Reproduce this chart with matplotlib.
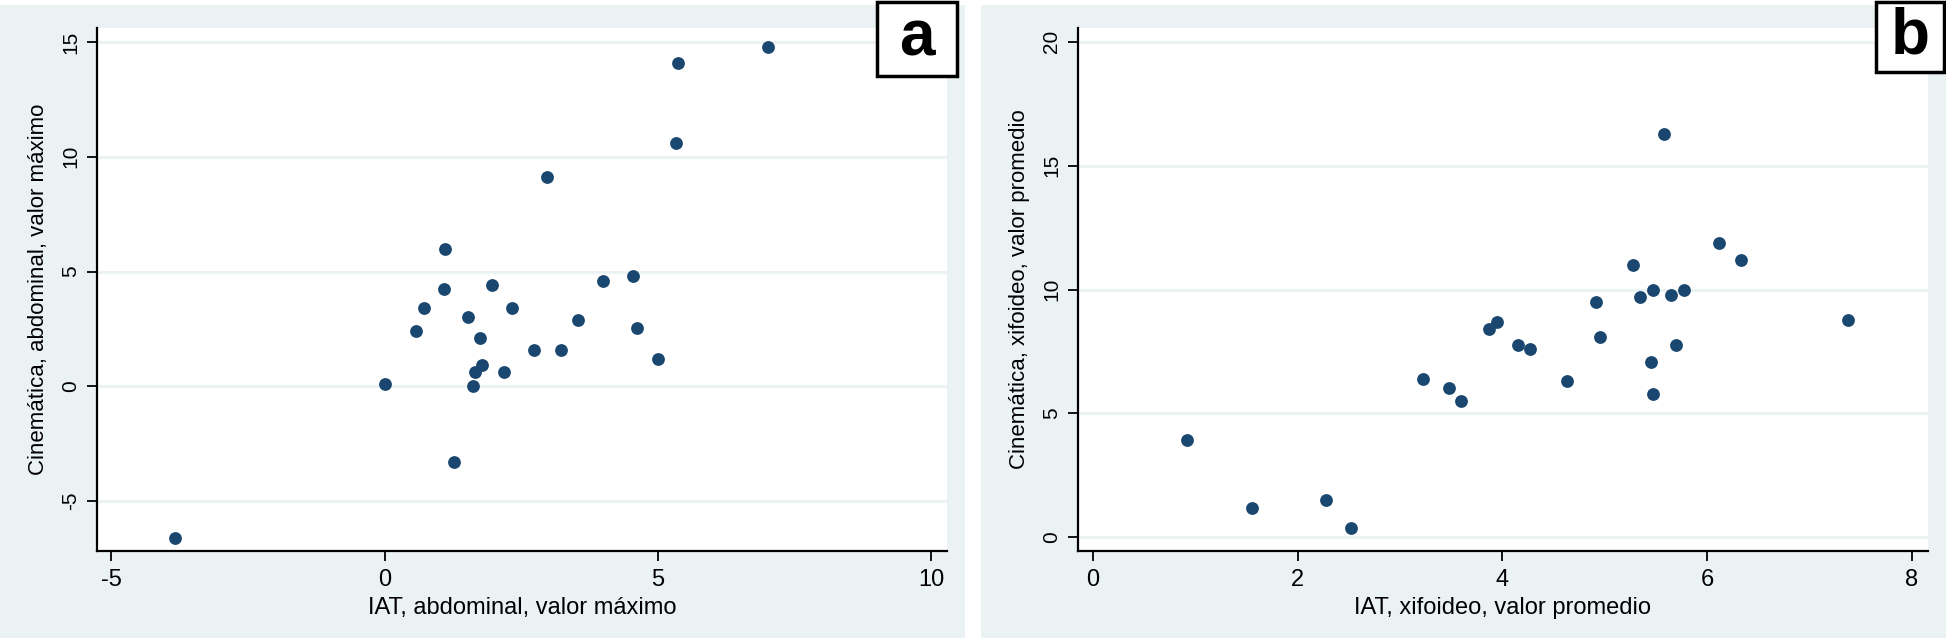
import matplotlib.pyplot as plt
from matplotlib.patches import Rectangle

# panel a: abdominal, valor maximo
iat_abd = [-3.84, 0.00, 0.58, 0.72, 1.10, 1.08, 1.28, 1.53, 1.75, 1.78, 1.66, 1.62, 1.96,
           2.18, 2.34, 2.74, 2.98, 3.23, 3.54, 4.00, 4.54, 4.62, 5.01, 5.33, 5.36, 7.02]
cin_abd = [-6.60, 0.12, 2.39, 3.40, 5.99, 4.22, -3.28, 3.01, 2.09, 0.92, 0.62, 0.02, 4.43,
           0.62, 3.40, 1.60, 9.10, 1.60, 2.89, 4.61, 4.80, 2.52, 1.21, 10.60, 14.08, 14.80]

# panel b: xifoideo, valor promedio
iat_xif = [0.92, 1.55, 2.28, 2.52, 3.22, 3.48, 3.60, 3.87, 3.95, 4.15, 4.27, 4.63, 4.92,
           4.95, 5.28, 5.35, 5.47, 5.45, 5.47, 5.58, 5.65, 5.70, 5.78, 6.12, 6.33, 7.38]
cin_xif = [3.91, 1.20, 1.51, 0.38, 6.39, 6.01, 5.50, 8.41, 8.70, 7.78, 7.60, 6.31, 9.51,
           8.08, 11.00, 9.69, 10.00, 7.09, 5.80, 16.27, 9.79, 7.78, 10.00, 11.90, 11.18, 8.78]

xticks_a = [-5, 0, 5, 10]
yticks_a = [-5, 0, 5, 10, 15]
xticks_b = [0, 2, 4, 6, 8]
yticks_b = [0, 5, 10, 15, 20]

W, H = 1946, 638
bg = '#eaf2f3'
navy = '#1a476f'

plt.rcParams['font.family'] = ['Liberation Sans', 'DejaVu Sans']

fig = plt.figure(figsize=(W / 100, H / 100), dpi=100, facecolor='white')


def fx(px):
    return px / W


def fy(py):
    return 1 - py / H


# panel backgrounds (light Stata-like graph region)
for x0 in (0, 981):
    fig.patches.append(Rectangle((fx(x0), 0), fx(965), 1 - 5 / H, transform=fig.transFigure,
                                 facecolor=bg, edgecolor='none', zorder=-2))


def panel(left, right, x, y, xlim, ylim, xticks, yticks, xlabel, ylabel):
    ax = fig.add_axes([fx(left), fy(551), fx(right - left), fy(27.7) - fy(551)])
    ax.set_facecolor('white')
    ax.scatter(x, y, s=85, color=navy, zorder=3, linewidths=0)
    ax.set_xlim(*xlim)
    ax.set_ylim(*ylim)
    ax.set_xticks(xticks)
    ax.set_yticks(yticks)
    ax.set_xticklabels([str(t) for t in xticks], fontsize=17)
    ax.set_yticklabels([str(t) for t in yticks], fontsize=15, rotation=90, va='center')
    ax.grid(axis='y', color=bg, linewidth=2)
    ax.set_axisbelow(True)
    for s in ['top', 'right']:
        ax.spines[s].set_visible(False)
    for s in ['left', 'bottom']:
        ax.spines[s].set_linewidth(1.6)
    ax.tick_params(direction='out', length=7, width=1.3)
    ax.tick_params(axis='x', pad=6)
    ax.tick_params(axis='y', pad=5)
    ax.set_xlabel(xlabel, fontsize=17, labelpad=4)
    ax.set_ylabel(ylabel, fontsize=16)
    ax.yaxis.set_label_coords(-0.057, 0.5)
    return ax


panel(97, 947, iat_abd, cin_abd, (-5.26, 10.29), (-7.17, 15.62), xticks_a, yticks_a,
      'IAT, abdominal, valor máximo', 'Cinemática, abdominal, valor máximo')
panel(1078, 1928, iat_xif, cin_xif, (-0.147, 8.16), (-0.55, 20.57), xticks_b, yticks_b,
      'IAT, xifoideo, valor promedio', 'Cinemática, xifoideo, valor promedio')

# letter boxes
for x0, x1, y1, letter in [(877, 957, 76, 'a'), (1876, 1944, 72, 'b')]:
    fig.patches.append(Rectangle((fx(x0), fy(y1)), fx(x1 - x0), fy(0) - fy(y1) - 0.003,
                                 transform=fig.transFigure, facecolor='white',
                                 edgecolor='black', linewidth=2.5, zorder=5))
    fig.text(fx((x0 + x1) / 2), fy(y1 / 2), letter, fontsize=46, fontweight='bold',
             ha='center', va='center', zorder=6)

fig.savefig('out.png', dpi=100, facecolor='white')
